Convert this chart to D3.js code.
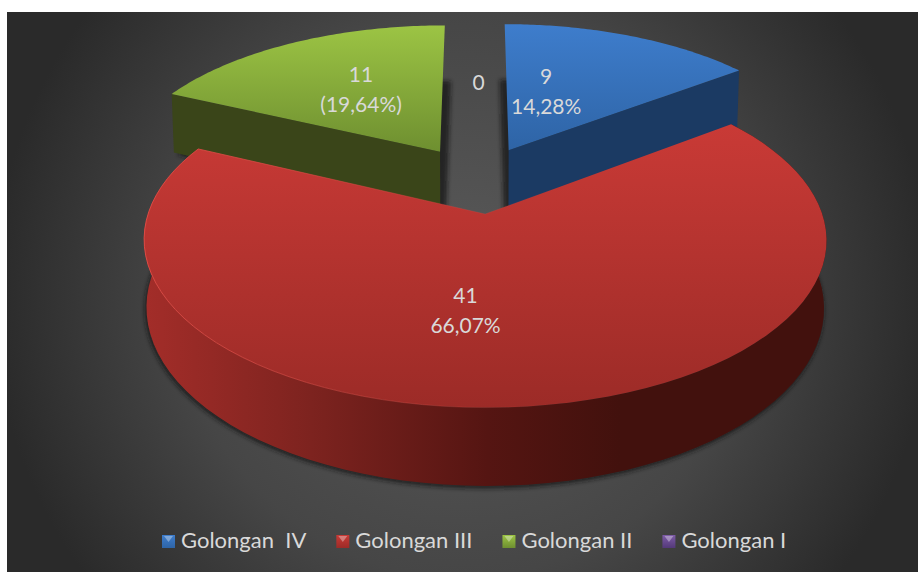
<!DOCTYPE html>
<html>
<head>
<meta charset="utf-8">
<script src="https://cdnjs.cloudflare.com/ajax/libs/d3/7.8.5/d3.min.js"></script>
<style>
html,body{margin:0;padding:0;background:#fff}
svg{display:block}
text{font-family:Lato,"Open Sans",sans-serif;fill:#d9d9d9;white-space:pre}
</style>
</head>
<body>
<svg id="chart" width="918" height="572"></svg>
<script>
var categories = ['Golongan  IV', 'Golongan III', 'Golongan II', 'Golongan I']
var counts = [9, 41, 11, 0]
var labelLine1 = ['9', '41', '11', '0']
var labelLine2 = ['14,28%', '66,07%', '(19,64%)', '']

var topLight = ['#3e7dcc', '#c93a36', '#9cc444', '#7d5ba6']
var topDark = ['#2e64a6', '#9c2b27', '#6e8f30', '#54397a']
var wallColor = ['#1b3a63', '#561512', '#3a4519', '#33234d']

var svg = d3.select('#chart')
var width = +svg.attr('width')
var height = +svg.attr('height')

// camera of the tilted pie, fitted by eye against the reference
var view = {ox: 477.5, oy: 179.4, a: 326, b: 153, p: 0.15, depth: 64, shrink: 0.993, explode: 0.22}
var sides = d3.scaleOrdinal().domain(categories).range(wallColor)
var pie = d3.pie().sort(null).startAngle(0).endAngle(2 * Math.PI)
var arcs = pie(counts)
var line = d3.line()

function project(X, Y, low) {
    var w = 1 - view.p * Y
    var x = view.a * X / w
    var y = view.b * Y / w
    if (low) {
        x = x * view.shrink
        y = y + view.depth / w
    }
    return [view.ox + x, view.oy + y]
}
function rimPoint(d, r, ang, low) {
    var mid = (d.startAngle + d.endAngle) / 2
    var X = view.explode * Math.sin(mid) + r * Math.sin(ang)
    var Y = -view.explode * Math.cos(mid) - r * Math.cos(ang)
    return project(X, Y, low)
}
function rimAngles(d) {
    return d3.range(0, 81).map(function (i) {
        return d.startAngle + (d.endAngle - d.startAngle) * i / 80
    })
}
function sliceFace(d, low) {
    var pts = [rimPoint(d, 0, 0, low)]
    rimAngles(d).forEach(function (a) { pts.push(rimPoint(d, 1, a, low)) })
    return line(pts) + 'Z'
}
function rimWall(d) {
    var ang = rimAngles(d)
    var up = ang.map(function (a) { return rimPoint(d, 1, a, false) })
    var down = ang.map(function (a) { return rimPoint(d, 1, a, true) }).reverse()
    return line(up.concat(down)) + 'Z'
}
function cutWall(d, ang) {
    return line([rimPoint(d, 0, 0, false), rimPoint(d, 1, ang, false), rimPoint(d, 1, ang, true), rimPoint(d, 0, 0, true)]) + 'Z'
}

var defs = svg.append('defs')
var bg = defs.append('radialGradient').attr('id', 'bg').attr('gradientUnits', 'userSpaceOnUse')
    .attr('cx', 462).attr('cy', 295).attr('r', 470)
bg.append('stop').attr('offset', 0).attr('stop-color', '#5a5a5a')
bg.append('stop').attr('offset', 0.6).attr('stop-color', '#464646')
bg.append('stop').attr('offset', 1).attr('stop-color', '#2a2a2a')

categories.forEach(function (c, i) {
    var g = defs.append('linearGradient').attr('id', 'face' + i).attr('x1', 0).attr('y1', 0).attr('x2', 0).attr('y2', 1)
    g.append('stop').attr('offset', 0).attr('stop-color', topLight[i])
    g.append('stop').attr('offset', 1).attr('stop-color', topDark[i])
})
var redWall = defs.append('linearGradient').attr('id', 'redWall').attr('gradientUnits', 'userSpaceOnUse')
    .attr('x1', 145).attr('y1', 0).attr('x2', 620).attr('y2', 0)
redWall.append('stop').attr('offset', 0).attr('stop-color', '#a32d29')
redWall.append('stop').attr('offset', 0.35).attr('stop-color', '#7d231f')
redWall.append('stop').attr('offset', 0.72).attr('stop-color', '#551512')
redWall.append('stop').attr('offset', 1).attr('stop-color', '#42110d')
// light edge on the lit left side of the red rim, gone by the middle
var redEdge = defs.append('linearGradient').attr('id', 'redEdge').attr('gradientUnits', 'userSpaceOnUse')
    .attr('x1', 145).attr('y1', 0).attr('x2', 560).attr('y2', 0)
redEdge.append('stop').attr('offset', 0).attr('stop-color', '#dc4a44')
redEdge.append('stop').attr('offset', 1).attr('stop-color', '#dc4a44').attr('stop-opacity', 0)
defs.append('filter').attr('id', 'blur').attr('x', '-10%').attr('y', '-10%').attr('width', '120%').attr('height', '120%')
    .append('feGaussianBlur').attr('stdDeviation', 2.2)

svg.append('rect').attr('x', 7).attr('y', 12).attr('width', width - 7).attr('height', height - 12).attr('fill', 'url(#bg)')

// soft shadows thrown on the backdrop under each slice
var shadowShift = [-4, -1, 5, 0]
var shown = arcs.filter(function (d) { return d.value > 0 })
svg.append('g').selectAll('path').data(shown).enter().append('path')
    .attr('d', function (d) { return sliceFace(d, true) })
    .attr('transform', function (d) { return 'translate(' + shadowShift[d.index] + ',2)' })
    .attr('fill', '#151515').attr('stroke', '#151515').attr('stroke-width', 1.5)
    .attr('opacity', 0.75).attr('filter', 'url(#blur)')

// blue and green stand behind the big red slice
var backSlices = [arcs[0], arcs[2]]
var back = svg.append('g').selectAll('g').data(backSlices).enter().append('g')
back.append('path')
    .attr('d', function (d) { return cutWall(d, d.index === 0 ? d.endAngle : d.startAngle) })
    .attr('fill', function (d) { return sides(categories[d.index]) })
back.append('path').attr('d', function (d) { return sliceFace(d, false) })
    .attr('fill', function (d) { return 'url(#face' + d.index + ')' })

var red = svg.append('g').datum(arcs[1])
red.append('path').attr('d', rimWall).attr('fill', 'url(#redWall)')
red.append('path').attr('d', function (d) { return sliceFace(d, false) })
    .attr('fill', 'url(#face1)').attr('stroke', 'url(#redEdge)').attr('stroke-width', 1)

// data labels sit at mid radius, the two front ones pulled toward the gap
var labelNudge = [[-27, 0], [-39, 7], [-1, -6], [1, 3]]
var labels = svg.append('g').selectAll('text').data(arcs).enter().append('text')
    .attr('text-anchor', 'middle').attr('font-size', 21)
    .attr('transform', function (d) {
        var mid = (d.startAngle + d.endAngle) / 2
        var p = rimPoint(d, 0.5, mid, false)
        return 'translate(' + (p[0] + labelNudge[d.index][0]) + ',' + (p[1] + labelNudge[d.index][1]) + ')'
    })
labels.append('tspan').attr('x', 0).attr('y', function (d) { return d.data === 0 ? 7 : -6 })
    .text(function (d) { return labelLine1[d.index] })
labels.append('tspan').attr('x', 0).attr('y', 24)
    .text(function (d) { return labelLine2[d.index] })

// legend along the bottom, laid out from the measured text widths
var legendX = 162
var legendGap = 30
var legend = svg.append('g')
categories.forEach(function (c, i) {
    var item = legend.append('g').attr('transform', 'translate(' + legendX + ',0)')
    item.append('rect').attr('x', 0).attr('y', 535).attr('width', 13).attr('height', 13).attr('fill', 'url(#face' + i + ')')
    item.append('path').attr('d', 'M2,536L11,536L6.5,542Z').attr('fill', '#ffffff').attr('opacity', 0.35)
    var t = item.append('text').attr('x', 19).attr('y', 548).attr('font-size', 22).text(c)
    legendX += 19 + t.node().getComputedTextLength() + legendGap
})
</script>
</body>
</html>
